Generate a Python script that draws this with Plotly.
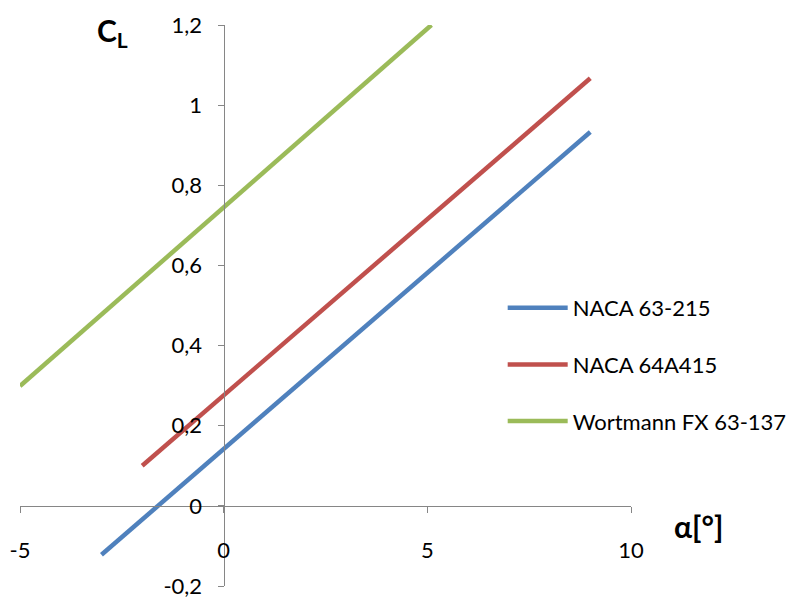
import plotly.graph_objects as go

# Data
series_names = ["NACA 63-215", "NACA 64A415", "Wortmann FX 63-137"]
alpha_naca63 = [-3, 0, 9]
cl_naca63 = [-0.122, 0.142, 0.933]
alpha_naca64 = [-2, 0, 9]
cl_naca64 = [0.10, 0.276, 1.067]
alpha_fx = [-5, 0, 5.1]
cl_fx = [0.299, 0.746, 1.20]
colors = ["#4F81BD", "#C0504D", "#9BBB59"]

x_tickvals = [-5, 0, 5, 10]
x_ticktext = ["-5", "0", "5", "10"]
y_tickvals = [-0.2, 0, 0.2, 0.4, 0.6, 0.8, 1.0, 1.2]
y_ticktext = ["-0,2", "0", "0,2", "0,4", "0,6", "0,8", "1", "1,2"]

FONT = "Lato, Carlito, Calibri, 'Open Sans', sans-serif"
AXIS_COLOR = "#868686"

fig = go.Figure()
for name, xs, ys, c in zip(series_names,
                           [alpha_naca63, alpha_naca64, alpha_fx],
                           [cl_naca63, cl_naca64, cl_fx], colors):
    fig.add_trace(go.Scatter(x=xs, y=ys, mode="lines", name=name,
                             legendgroup=name,
                             line=dict(color=c, width=4.5)))

x_range = [-5, 10]
y_range = [-0.2, 1.2]

# the page body has an 8px default margin; size/margins compensate for it
fig.update_layout(
    width=795, height=589,
    margin=dict(l=12, r=160, t=17, b=11),
    paper_bgcolor="white", plot_bgcolor="white",
    font=dict(family=FONT, size=22, color="black"),
    showlegend=True,
    legend=dict(x=0.79, y=0.533, xanchor="left", yanchor="top",
                bgcolor="rgba(0,0,0,0)", tracegroupgap=25,
                itemwidth=60, font=dict(size=22)),
    xaxis=dict(range=x_range, tickvals=x_tickvals, ticktext=x_ticktext,
               showgrid=False, zeroline=False, showline=True,
               linecolor=AXIS_COLOR, linewidth=1.3,
               ticks="outside", ticklen=6, tickcolor=AXIS_COLOR, tickwidth=1.3,
               anchor="free", position=(0 - y_range[0]) / (y_range[1] - y_range[0]),
               ticklabelstandoff=19, automargin=False, ticklabeloverflow="allow"),
    yaxis=dict(range=y_range, tickvals=y_tickvals, ticktext=y_ticktext,
               showgrid=False, zeroline=False, showline=True,
               linecolor=AXIS_COLOR, linewidth=1.3,
               ticks="outside", ticklen=6, tickcolor=AXIS_COLOR, tickwidth=1.3,
               anchor="free", position=(0 - x_range[0]) / (x_range[1] - x_range[0]),
               ticklabelstandoff=11, automargin=False, ticklabeloverflow="allow"),
    annotations=[
        dict(text="<b>C<sub>L</sub></b>", xref="paper", yref="paper",
             x=0.152, y=0.9875, xanchor="center", yanchor="middle",
             showarrow=False, font=dict(size=30)),
        dict(text="<b>α[°]</b>", xref="paper", yref="paper",
             x=1.11, y=0.107, xanchor="center", yanchor="middle",
             showarrow=False, font=dict(size=30)),
    ],
)

fig.write_html("out.html")
